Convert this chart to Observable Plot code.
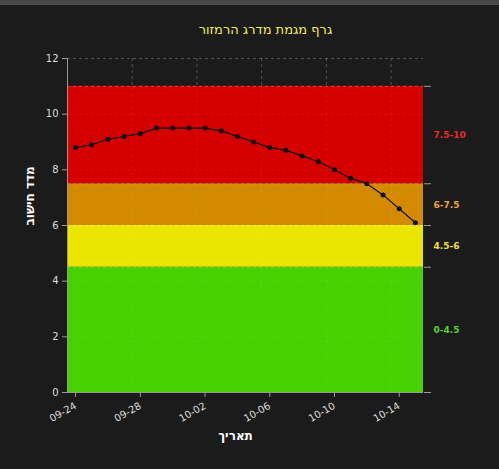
<!DOCTYPE html>
<html><head><meta charset="utf-8">
<script src="https://cdn.jsdelivr.net/npm/d3@7"></script>
<script src="https://cdn.jsdelivr.net/npm/@observablehq/plot@0.6"></script>
<style>
html,body{margin:0;padding:0;background:#1b1b1b;}
#topbar{position:absolute;left:0;top:0;width:499px;height:5px;background:#4a4a4a;}
#chart{position:absolute;left:0;top:0;}
</style></head>
<body><div id="chart"></div><div id="topbar"></div>
<script>
const dates = ["2023-09-24","2023-09-25","2023-09-26","2023-09-27","2023-09-28","2023-09-29","2023-09-30","2023-10-01","2023-10-02","2023-10-03","2023-10-04","2023-10-05","2023-10-06","2023-10-07","2023-10-08","2023-10-09","2023-10-10","2023-10-11","2023-10-12","2023-10-13","2023-10-14","2023-10-15"];
const values = [8.8,8.9,9.1,9.2,9.3,9.5,9.5,9.5,9.5,9.4,9.2,9.0,8.8,8.7,8.5,8.3,8.0,7.7,7.5,7.1,6.6,6.1];
const bandLow = [0, 4.5, 6, 7.5];
const bandHigh = [4.5, 6, 7.5, 11];
const bandLabels = ["0-4.5","4.5-6","6-7.5","7.5-10"];
const bandFill = ["#47d100","#ebe600","#d48a00","#d40000"];
const bandLabelColor = ["#52d42a","#eee040","#f0a040","#e82a2a"];
const xTicks = ["2023-09-24","2023-09-28","2023-10-02","2023-10-06","2023-10-10","2023-10-14"];
const yTicks = [0,2,4,6,8,10,12];
const title = "גרף מגמת מדרג הרמזור";
const xLabel = "תאריך";
const yLabel = "מדד חישוב";

const parse = s => new Date(s + "T00:00:00Z");
const data = dates.map((d,i)=>({date: parse(d), v: values[i]}));
const bands = bandLow.map((lo,i)=>({lo, hi: bandHigh[i], mid:(lo+bandHigh[i])/2, label: bandLabels[i], fill: bandFill[i], lc: bandLabelColor[i]}));
const halfDay = 12*3600*1000;
const xDomain = [new Date(parse(dates[0]) - halfDay), new Date(+parse(dates[dates.length-1]) + halfDay)];
const tickDates = xTicks.map(parse);
const gridDates = tickDates.map(d => new Date(d - halfDay));

const chart = Plot.plot({
  width: 499, height: 469,
  marginLeft: 67, marginRight: 76, marginTop: 58, marginBottom: 77,
  style: {background: "#1b1b1b", color: "#ddd", fontFamily: "DejaVu Sans, sans-serif", fontSize: "10px"},
  x: {type: "utc", domain: xDomain},
  y: {domain: [0, 12]},
  marks: [
    Plot.gridX(gridDates, {stroke: "#aaa", strokeOpacity: 0.3, strokeDasharray: "3,3"}),
    Plot.gridY(yTicks, {stroke: "#aaa", strokeOpacity: 0.3, strokeDasharray: "3,3"}),
    Plot.rect(bands, {y1: "lo", y2: "hi", fill: "fill"}),
    Plot.gridX(gridDates, {stroke: "#fff", strokeOpacity: 0.07, strokeDasharray: "3,3"}),
    Plot.gridY(yTicks, {stroke: "#fff", strokeOpacity: 0.07, strokeDasharray: "3,3"}),
    Plot.ruleY(bandLow.slice(1).concat([11]), {stroke: "#fff", strokeOpacity: 0.25, strokeDasharray: "3,3"}),
    Plot.axisY(yTicks, {anchor: "left", tickSize: 5, tickPadding: 4, stroke: "#999", fill: "#ddd", label: null, fontSize: 10}),
    Plot.ruleX([xDomain[0]], {stroke: "#999"}),
    Plot.axisX(tickDates, {anchor: "bottom", tickSize: 5, tickRotate: -30, tickFormat: d3.utcFormat("%m-%d"), stroke: "#999", fill: "#ddd", label: null, fontSize: 10}),
    Plot.ruleY([0], {stroke: "#999", x1: xDomain[0], x2: xDomain[1]}),
    Plot.axisY([0,4.5,6,7.5,11], {anchor: "right", tickSize: 7, tickFormat: () => "", stroke: "#999", label: null}),
    Plot.text(bands, {y: "mid", text: "label", fill: "lc", frameAnchor: "right", dx: 10, textAnchor: "start", fontWeight: "bold", fontSize: 9}),
    Plot.line(data, {x: "date", y: "v", stroke: "#111", strokeWidth: 1.2}),
    Plot.dot(data, {x: "date", y: "v", fill: "#111", r: 2.5}),
    Plot.text([title], {frameAnchor: "top", dy: -34, dx: 20, fill: "#eeee55", fontSize: 13, text: d => d}),
    Plot.text([xLabel], {frameAnchor: "bottom", dy: 47, dx: -10, fill: "#fff", fontSize: 12, fontWeight: "bold", text: d => d}),
    Plot.text([yLabel], {frameAnchor: "left", dx: -37, rotate: -90, fill: "#fff", fontSize: 12, fontWeight: "bold", text: d => d})
  ]
});
document.getElementById("chart").appendChild(chart);
</script>
</body></html>
